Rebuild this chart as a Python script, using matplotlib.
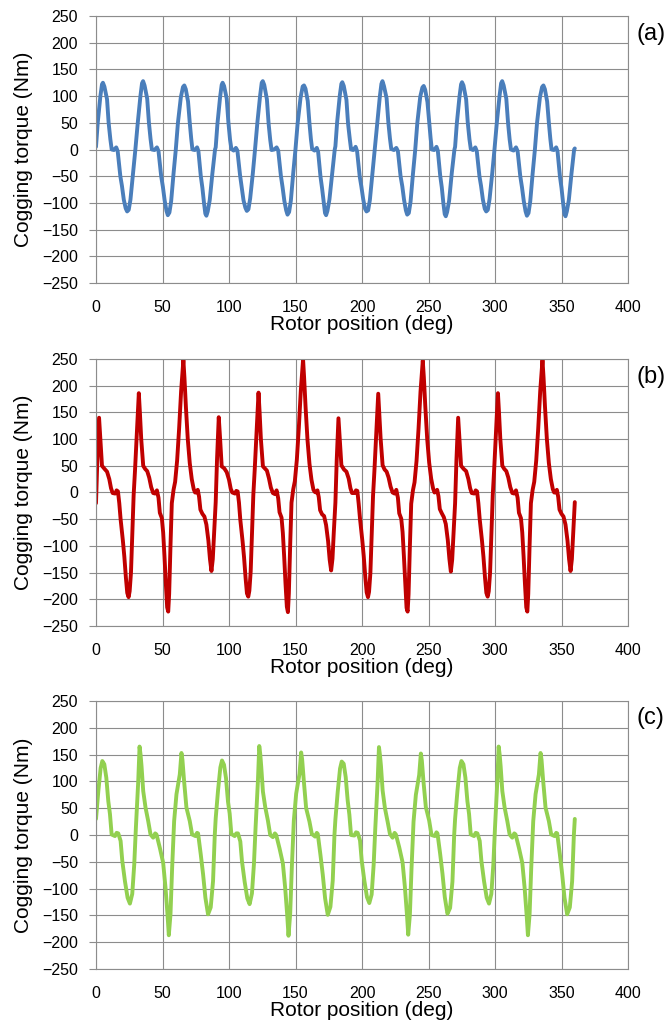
import numpy as np
import matplotlib.pyplot as plt

plt.rcParams['font.family'] = ['Liberation Sans', 'DejaVu Sans']

# knot positions (deg) inside one 90 deg cycle
rel_a = [0, 1.3, 3.3, 4.5, 5.2, 6.3, 8.3, 9.5, 10.8, 11.8, 13.5, 15.2, 16.3, 18.3, 19.5, 20.9, 22.3, 23.4, 24.6, 25.9, 27.9, 29.6,
         31.4, 33.4, 34.6, 35.4, 36.5, 38.5, 39.8, 41.0, 42.0, 44.0, 45.8, 47.0, 49.0, 50.3, 51.6, 53.0, 54.0, 55.2, 56.5, 58.3, 60.0,
         61.6, 63.8, 65.4, 66.4, 67.5, 69.2, 70.5, 71.6, 72.5, 74.3, 76.0, 77.0, 78.8, 80.0, 81.2, 82.2, 83.0, 84.0, 85.5, 87.5, 89.5]

# (a) cogging torque (Nm), one list per 90 deg cycle
a_c1 = [5, 50, 100, 122, 125, 118, 94, 50, 19, 0, -1, 4, -3, -50, -68, -94, -110, -116, -113, -94, -44, 0,
        50, 100, 124, 128, 120, 95, 50, 20, 0, -1, 4, -3, -50, -70, -95, -115, -123, -118, -97, -45, 0,
        50, 98, 117, 120, 113, 90, 50, 20, 0, -1, 4, -3, -50, -72, -100, -120, -124, -116, -95, -45, 0]
a_c2 = [4, 48, 98, 121, 125, 119, 95, 52, 18, 1, -2, 3, -2, -48, -70, -95, -109, -115, -112, -92, -45, 1,
        52, 101, 125, 128, 121, 94, 48, 18, -1, 0, 4, -2, -49, -71, -96, -114, -122, -117, -96, -44, 1,
        49, 97, 118, 120, 114, 91, 49, 19, 1, -2, 3, -4, -51, -73, -99, -119, -123, -115, -94, -46, 0]
a_c3 = [6, 51, 101, 123, 126, 119, 93, 49, 20, 0, -1, 5, -3, -51, -69, -93, -111, -116, -114, -95, -43, 0,
        49, 99, 123, 128, 119, 96, 51, 21, 1, -1, 3, -3, -50, -69, -94, -114, -122, -119, -98, -46, -1,
        50, 99, 116, 119, 112, 89, 51, 21, 0, -1, 5, -2, -49, -71, -101, -121, -125, -117, -96, -44, 0]
a_c4 = [5, 49, 99, 122, 126, 120, 94, 51, 19, 1, -1, 4, -3, -50, -68, -94, -111, -116, -113, -93, -45, 0,
        51, 100, 124, 128, 120, 95, 50, 19, 0, -2, 4, -3, -50, -71, -96, -116, -124, -119, -97, -45, 0,
        50, 98, 117, 120, 113, 90, 50, 20, 0, -1, 4, -3, -50, -72, -100, -121, -125, -116, -95, -45, 0]
a_end = 2

rel_b = [0, 1, 2.3, 3.3, 4.5, 6.5, 8.3, 10, 11.3, 12.5, 14.5, 15.5, 16.5, 17.5, 18.5, 20.2, 21.3, 22.5, 23.5, 24.5,
         25.3, 26.3, 27.3, 28.3, 29.3, 30.5, 31.5, 32.2, 33, 34, 35.5, 37, 38.5, 40, 41.5, 43, 44.5, 45.8, 47, 48,
         49.5, 50.5, 51.5, 52.5, 53.5, 54.3, 55, 56, 57, 58.3, 59.5, 61, 62.5, 64, 65.7, 66.5, 67.6, 69, 70.5, 72,
         73.5, 74.5, 75.5, 76.5, 77.5, 78.5, 80, 81.5, 83, 84.5, 85.7, 86.8, 87.8, 88.8]

b_c1 = [-20, 60, 140, 100, 50, 44, 39, 25, 8, -1, -2, 4, 2, -20, -50, -90, -120, -160, -188, -196,
        -185, -150, -80, -5, 40, 100, 150, 186, 150, 100, 50, 44, 40, 28, 10, -1, -2, 4, -10, -38,
        -48, -75, -120, -170, -215, -223, -190, -100, -20, 5, 20, 60, 120, 190, 248, 215, 160, 100, 55, 25,
        6, 0, 0, 5, -8, -32, -40, -45, -60, -90, -125, -147, -125, -75]
b_c2 = [-18, 62, 141, 101, 49, 45, 38, 24, 7, 0, -2, 3, 2, -19, -51, -91, -121, -161, -189, -195,
        -184, -148, -78, -4, 41, 101, 151, 187, 151, 99, 49, 45, 41, 27, 9, -1, -3, 4, -11, -37,
        -47, -76, -121, -171, -214, -224, -189, -98, -19, 6, 21, 61, 121, 191, 249, 214, 159, 99, 54, 24,
        5, 1, 0, 4, -9, -33, -41, -44, -61, -91, -126, -146, -124, -74]
b_c3 = [-19, 61, 139, 99, 51, 43, 39, 26, 8, -1, -1, 4, 3, -21, -49, -89, -119, -159, -187, -196,
        -186, -151, -79, -6, 39, 99, 149, 185, 149, 101, 51, 43, 39, 28, 11, 0, -2, 5, -10, -39,
        -49, -74, -119, -169, -216, -223, -191, -101, -21, 4, 19, 59, 119, 189, 247, 216, 161, 101, 56, 26,
        7, 0, 1, 5, -7, -31, -39, -46, -59, -89, -124, -148, -126, -76]
b_c4 = [-20, 60, 140, 100, 50, 44, 40, 25, 8, -1, -2, 4, 2, -20, -50, -90, -120, -160, -188, -195,
        -185, -150, -80, -5, 40, 100, 150, 186, 150, 100, 50, 44, 40, 28, 10, -1, -2, 4, -10, -38,
        -48, -75, -120, -170, -215, -223, -190, -100, -20, 5, 20, 60, 120, 190, 248, 215, 160, 100, 55, 25,
        6, 0, 0, 5, -8, -32, -40, -45, -60, -90, -125, -147, -125, -75]
b_end = -18

rel_c = [0, 1.75, 3.5, 4.75, 6.25, 7.75, 9.25, 10.5, 11.75, 14.25, 15.5, 16.75, 18.5, 19.75, 21.75, 23.75, 25.5, 27.25, 28.75, 30,
         31.75, 32.75, 33.5, 34.25, 35.5, 37.25, 39.25, 41, 43, 44.5, 45.5, 48, 50.5, 52.25, 53.75, 54.75, 56, 57.25, 58.75, 60.5,
         63, 64.25, 65, 66.25, 68, 70.5, 72.25, 74.75, 76, 76.75, 78.75, 80.5, 82.25, 84.25, 86.25, 88, 89.3]

c_c1 = [30, 82, 125, 138, 132, 107, 63, 39, 1, -2, 4, 3, -11, -48, -86, -117, -128, -110, -55, 14,
        100, 165, 150, 128, 82, 51, 26, 1, -5, 3, 1, -24, -52, -98, -148, -187, -148, -61, 26, 76,
        113, 153, 140, 100, 51, 26, 1, -2, 4, 3, -36, -73, -117, -148, -135, -86, 0]
c_c2 = [31, 83, 126, 139, 131, 106, 62, 40, 2, -2, 3, 3, -12, -49, -87, -118, -129, -109, -54, 15,
        101, 166, 151, 127, 81, 52, 27, 0, -4, 3, 0, -25, -53, -99, -149, -188, -147, -60, 27, 77,
        114, 154, 141, 101, 50, 25, 2, -3, 4, 2, -37, -74, -118, -149, -134, -85, 1]
c_c3 = [29, 81, 124, 137, 133, 108, 64, 38, 0, -1, 5, 4, -10, -47, -85, -116, -127, -111, -56, 13,
        99, 164, 149, 129, 83, 50, 25, 2, -5, 4, 1, -23, -51, -97, -147, -186, -149, -62, 25, 75,
        112, 152, 139, 99, 52, 27, 0, -2, 5, 3, -35, -72, -116, -147, -136, -87, 0]
c_c4 = [30, 82, 125, 138, 132, 107, 63, 39, 1, -2, 4, 3, -11, -48, -86, -117, -128, -110, -55, 14,
        100, 165, 150, 128, 82, 51, 26, 1, -5, 3, 1, -24, -52, -98, -148, -187, -148, -61, 26, 76,
        113, 153, 140, 100, 51, 26, 1, -2, 4, 3, -36, -73, -117, -148, -135, -86, 0]
c_end = 30

x_ticks = [0, 50, 100, 150, 200, 250, 300, 350, 400]
y_ticks = [-250, -200, -150, -100, -50, 0, 50, 100, 150, 200, 250]


def build(rel, cycles, end):
    # place the four 90 deg cycles one after another, then the 360 deg point
    x = np.concatenate([np.array(rel) + 90 * k for k in range(len(cycles))] + [[360]])
    y = np.concatenate([np.array(c, dtype=float) for c in cycles] + [[end]])
    return x, y


series = [
    (build(rel_a, [a_c1, a_c2, a_c3, a_c4], a_end), '#4a7ebb', '(a)'),
    (build(rel_b, [b_c1, b_c2, b_c3, b_c4], b_end), '#c00000', '(b)'),
    (build(rel_c, [c_c1, c_c2, c_c3, c_c4], c_end), '#92d050', '(c)'),
]

fig = plt.figure(figsize=(6.72, 10.28), dpi=100)
W, H = 672.0, 1028.0
# axes boxes in pixels: left, top, right, bottom
boxes = [(96, 16, 628, 283), (96, 359, 628, 626), (96, 701, 628, 969)]
tag_y = [34, 377, 718]
grid_col = '#8c8c8c'

for ((x, y), col, tag), (l, t, r, b), ty in zip(series, boxes, tag_y):
    ax = fig.add_axes([l / W, 1 - b / H, (r - l) / W, (b - t) / H])
    ax.plot(x, y, color=col, lw=2.8, solid_joinstyle='round', solid_capstyle='round')
    ax.set_xlim(0, 400)
    ax.set_ylim(-250, 250)
    ax.set_xticks(x_ticks)
    ax.set_yticks(y_ticks)
    ax.grid(True, color=grid_col, lw=0.8)
    ax.set_axisbelow(True)
    for s in ax.spines.values():
        s.set_color(grid_col)
        s.set_linewidth(0.8)
    ax.tick_params(axis='y', length=5, width=0.8, color=grid_col, pad=8, labelsize=11.5)
    ax.tick_params(axis='x', length=0, pad=12, labelsize=11.5)
    ax.set_xlabel('Rotor position (deg)', fontsize=15)
    ax.xaxis.set_label_coords(0.5, -0.118)
    ax.set_ylabel('Cogging torque (Nm)', fontsize=15)
    ax.yaxis.set_label_coords(-0.118, 0.5)
    fig.text(637 / W, 1 - ty / H, tag, fontsize=17, va='center', ha='left')

fig.savefig('out.png', dpi=100)
